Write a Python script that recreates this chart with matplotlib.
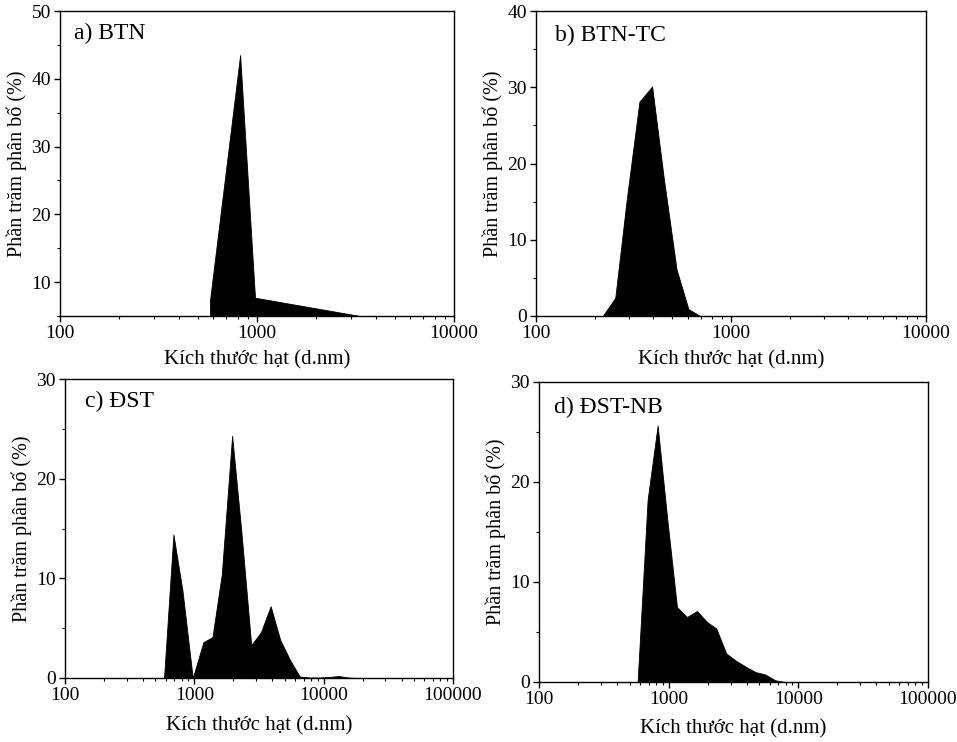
import numpy as np
import matplotlib.pyplot as plt
from matplotlib.ticker import MultipleLocator, LogLocator, NullFormatter, FixedLocator

plt.rcParams['font.family'] = ['Liberation Serif', 'DejaVu Serif']

# a) BTN
size_a = [577, 821, 977, 3335]
pct_a = [7.3, 43.5, 7.7, 5.0]

# b) BTN-TC
size_b = [220, 255, 292, 339, 394, 452, 526, 605, 695]
pct_b = [0, 2.4, 15.3, 28.1, 30.1, 18.1, 6.1, 0.9, 0]

# c) DST
size_c = [583, 689, 809, 972, 1175, 1380, 1630, 1960, 2317, 2754, 3275, 3890,
          4620, 5500, 6530, 7760, 9230, 10960, 13030, 15490, 18400]
pct_c = [0, 14.4, 8.8, 0, 3.6, 4.1, 10.4, 24.3, 14.5, 3.3, 4.6, 7.2,
         3.8, 1.8, 0.15, 0.05, 0.05, 0.1, 0.2, 0.05, 0]

# d) DST-NB
size_d = [576, 688, 822, 977, 1159, 1384, 1653, 1976, 2330, 2782, 3325, 3970,
          4660, 5560, 6640, 7940]
pct_d = [0, 18.2, 25.65, 16.2, 7.5, 6.5, 7.1, 6.0, 5.35, 2.85, 2.1, 1.5,
         1.0, 0.75, 0.17, 0]

panels = [
    ('a) BTN', size_a, pct_a, (100, 10000), (5, 50), [10, 20, 30, 40, 50]),
    ('b) BTN-TC', size_b, pct_b, (100, 10000), (0, 40), [0, 10, 20, 30, 40]),
    ('c) ĐST', size_c, pct_c, (100, 100000), (0, 30), [0, 10, 20, 30]),
    ('d) ĐST-NB', size_d, pct_d, (100, 100000), (0, 30), [0, 10, 20, 30]),
]

W, H = 957, 742
boxes = [
    (60, 11, 454, 316),
    (536, 11, 926, 316),
    (65, 379, 453, 678),
    (539, 382, 928, 682),
]
label_pos = [(0.036, 0.928), (0.048, 0.921), (0.052, 0.924), (0.039, 0.914)]
xlabel_pads = [6, 6, 9, 8]

fig = plt.figure(figsize=(W / 100, H / 100), dpi=100)

for (title, xs, ys, xlim, ylim, yticks), (l, t, r, b), (tx, ty), lp in zip(panels, boxes, label_pos, xlabel_pads):
    ax = fig.add_axes([l / W, (H - b) / H, (r - l) / W, (b - t) / H])
    ax.fill_between(xs, ys, 0, color='black', linewidth=0.6, edgecolor='black')
    ax.set_xscale('log')
    ax.set_xlim(*xlim)
    ax.set_ylim(*ylim)
    ax.yaxis.set_major_locator(FixedLocator(yticks))
    ax.yaxis.set_minor_locator(MultipleLocator(5))
    ax.xaxis.set_major_locator(LogLocator(base=10))
    ax.xaxis.set_minor_locator(LogLocator(base=10, subs=np.arange(2, 10)))
    ax.xaxis.set_minor_formatter(NullFormatter())
    ax.set_xticklabels([str(int(v)) for v in ax.get_xticks()])
    ax.tick_params(which='major', direction='out', length=4, width=1, labelsize=14, pad=2.5)
    ax.tick_params(which='minor', direction='out', length=2.5, width=0.8)
    ax.tick_params(top=False, right=False, which='both')
    for s in ax.spines.values():
        s.set_linewidth(1.0)
    ax.set_xlabel('Kích thước hạt (d.nm)', fontsize=15, labelpad=lp)
    ax.set_ylabel('Phần trăm phân bố (%)', fontsize=14.5, labelpad=3)
    ax.text(tx, ty, title, transform=ax.transAxes, fontsize=17, va='center', ha='left')

fig.savefig('out.png', dpi=100)
